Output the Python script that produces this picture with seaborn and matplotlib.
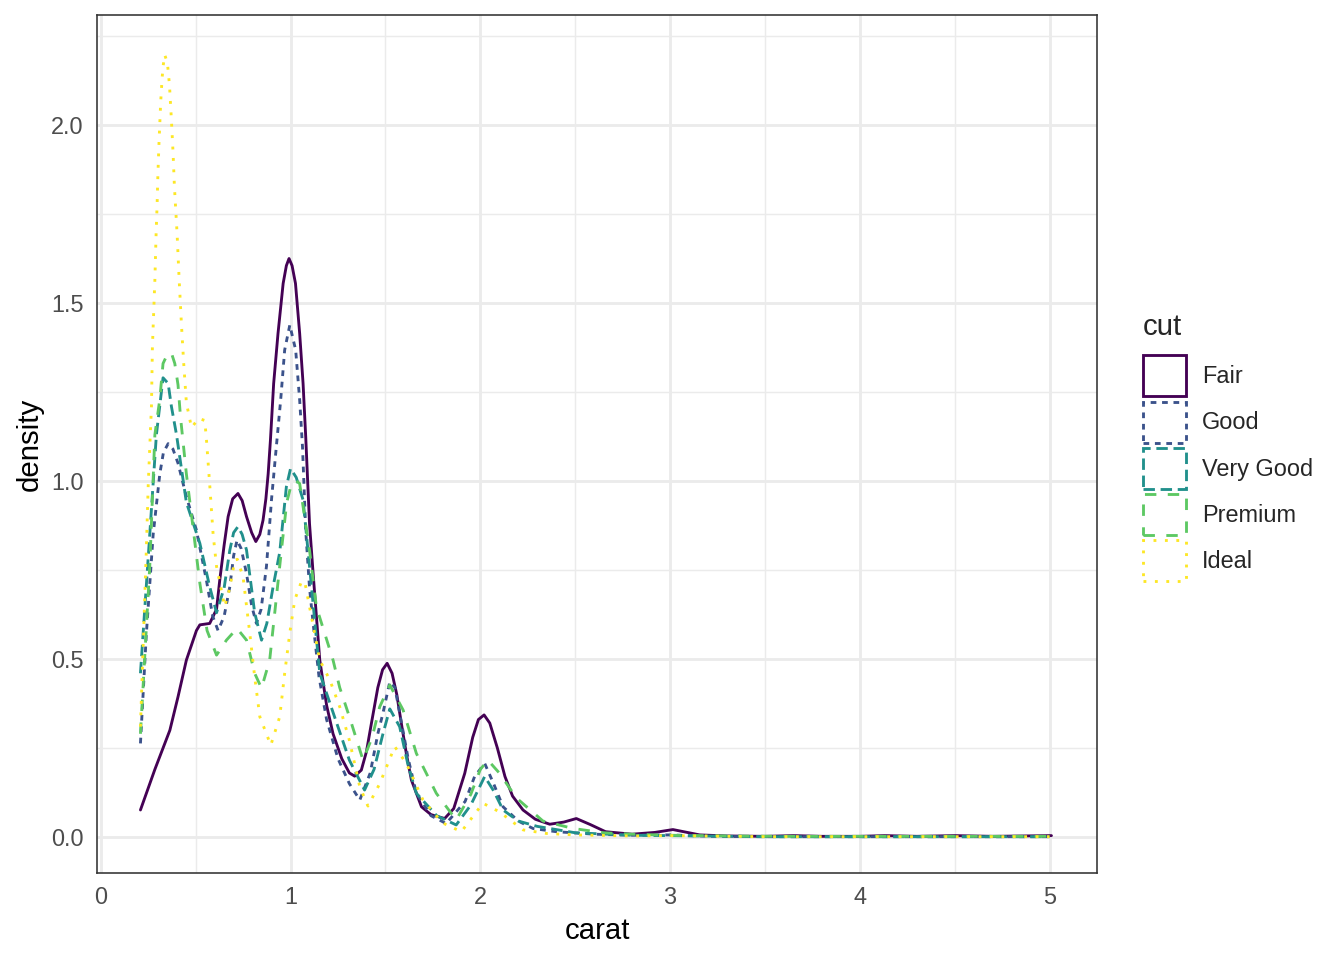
import numpy as np
import pandas as pd
import matplotlib
matplotlib.use("Agg")
import matplotlib.pyplot as plt
from matplotlib.patches import Rectangle
from matplotlib.ticker import MultipleLocator
import seaborn as sns

cuts = ["Fair", "Good", "Very Good", "Premium", "Ideal"]
colors = ["#440154", "#3B528B", "#21908C", "#5DC863", "#FDE725"]

fair_x = [0.209, 0.285, 0.364, 0.407, 0.451, 0.504, 0.522, 0.574, 0.61, 0.627, 0.65, 0.671, 0.695, 0.723,
          0.745, 0.768, 0.795, 0.817, 0.838, 0.855, 0.87, 0.882, 0.894, 0.911, 0.934, 0.961, 0.978, 0.992,
          1.008, 1.026, 1.048, 1.066, 1.080, 1.10, 1.119, 1.154, 1.19, 1.224, 1.27, 1.31, 1.338, 1.373,
          1.40, 1.426, 1.46, 1.485, 1.509, 1.535, 1.56, 1.584, 1.61, 1.637, 1.69, 1.74, 1.812, 1.86,
          1.918, 1.96, 1.99, 2.02, 2.05, 2.09, 2.13, 2.17, 2.225, 2.29, 2.366, 2.44, 2.506, 2.58, 2.66,
          2.80, 2.92, 3.015, 3.10, 3.156, 3.3, 3.5, 3.65, 3.8, 4.0, 4.13, 4.3, 4.5, 4.7, 5.01]
fair_y = [0.076, 0.19, 0.30, 0.394, 0.497, 0.58, 0.596, 0.60, 0.64, 0.722, 0.82, 0.90, 0.95, 0.965,
          0.945, 0.90, 0.855, 0.83, 0.85, 0.89, 0.95, 1.02, 1.115, 1.274, 1.415, 1.555, 1.605, 1.625,
          1.605, 1.555, 1.415, 1.274, 1.124, 0.88, 0.74, 0.497, 0.37, 0.29, 0.22, 0.18, 0.171, 0.188,
          0.24, 0.319, 0.42, 0.47, 0.488, 0.46, 0.40, 0.319, 0.235, 0.16, 0.085, 0.063, 0.052, 0.08,
          0.179, 0.28, 0.33, 0.343, 0.32, 0.25, 0.17, 0.115, 0.076, 0.05, 0.036, 0.042, 0.052, 0.035, 0.015,
          0.008, 0.013, 0.021, 0.012, 0.006, 0.003, 0.002, 0.004, 0.002, 0.002, 0.004, 0.002, 0.004, 0.002, 0.004]

good_x = [0.209, 0.24, 0.276, 0.311, 0.33, 0.355, 0.38, 0.407, 0.451, 0.504, 0.557, 0.59, 0.618, 0.65,
          0.68, 0.70, 0.718, 0.74, 0.768, 0.795, 0.82, 0.845, 0.873, 0.90, 0.925, 0.948, 0.969, 0.996,
          1.027, 1.048, 1.063, 1.08, 1.10, 1.119, 1.15, 1.19, 1.25, 1.31, 1.365, 1.42, 1.46, 1.487,
          1.523, 1.55, 1.575, 1.62, 1.663, 1.74, 1.82, 1.92, 1.97, 2.023, 2.07, 2.12, 2.2, 2.278, 2.4,
          2.6, 2.8, 3.0, 3.2, 3.5, 4.0, 4.5, 5.0]
good_y = [0.263, 0.57, 0.85, 1.02, 1.08, 1.105, 1.09, 1.05, 0.956, 0.862, 0.72, 0.62, 0.58, 0.62,
          0.703, 0.79, 0.834, 0.81, 0.74, 0.65, 0.60, 0.64, 0.76, 0.95, 1.096, 1.228, 1.368, 1.438,
          1.368, 1.228, 1.096, 0.86, 0.70, 0.60, 0.45, 0.33, 0.22, 0.15, 0.104, 0.18, 0.29, 0.348,
          0.436, 0.42, 0.348, 0.22, 0.123, 0.06, 0.038, 0.10, 0.17, 0.207, 0.15, 0.085, 0.045, 0.024, 0.015,
          0.008, 0.005, 0.006, 0.002, 0.001, 0.001, 0.001, 0.001]

vgood_x = [0.209, 0.258, 0.293, 0.328, 0.355, 0.372, 0.399, 0.451, 0.522, 0.574, 0.61, 0.65, 0.68, 0.70,
           0.723, 0.745, 0.768, 0.811, 0.847, 0.875, 0.908, 0.943, 0.978, 1.0, 1.03, 1.066, 1.10, 1.154,
           1.224, 1.31, 1.39, 1.44, 1.487, 1.523, 1.575, 1.62, 1.663, 1.77, 1.873, 1.95, 2.023, 2.07,
           2.12, 2.2, 2.3, 2.5, 2.8, 3.0, 3.5, 4.0, 4.5, 5.0]
vgood_y = [0.46, 0.85, 1.13, 1.29, 1.274, 1.21, 1.13, 0.94, 0.825, 0.703, 0.63, 0.70, 0.806, 0.855,
           0.872, 0.85, 0.806, 0.63, 0.553, 0.60, 0.703, 0.80, 0.984, 1.035, 1.01, 0.947, 0.76, 0.46,
           0.35, 0.216, 0.132, 0.19, 0.29, 0.36, 0.31, 0.20, 0.123, 0.06, 0.034, 0.09, 0.17, 0.13,
           0.076, 0.045, 0.03, 0.012, 0.005, 0.004, 0.001, 0.001, 0.001, 0.001]

prem_x = [0.209, 0.258, 0.285, 0.311, 0.328, 0.35, 0.372, 0.39, 0.407, 0.42, 0.451, 0.486, 0.522, 0.56,
          0.61, 0.662, 0.718, 0.768, 0.811, 0.847, 0.89, 0.952, 0.98, 1.005, 1.03, 1.048, 1.10, 1.136,
          1.224, 1.259, 1.31, 1.382, 1.43, 1.47, 1.523, 1.593, 1.663, 1.768, 1.873, 1.95, 2.0, 2.04,
          2.10, 2.19, 2.33, 2.49, 2.65, 2.8, 3.0, 3.3, 3.6, 4.0, 4.5, 5.0]
prem_y = [0.29, 0.76, 1.13, 1.23, 1.33, 1.355, 1.36, 1.33, 1.27, 1.18, 1.02, 0.87, 0.713, 0.58,
          0.511, 0.553, 0.586, 0.553, 0.46, 0.418, 0.497, 0.806, 0.94, 0.993, 1.0, 0.993, 0.806, 0.647,
          0.497, 0.42, 0.338, 0.216, 0.28, 0.366, 0.427, 0.357, 0.235, 0.123, 0.048, 0.12, 0.19, 0.216,
          0.18, 0.11, 0.045, 0.024, 0.012, 0.008, 0.005, 0.003, 0.002, 0.002, 0.002, 0.002]

ideal_x = [0.209, 0.24, 0.25, 0.267, 0.272, 0.285, 0.291, 0.297, 0.30, 0.306, 0.311, 0.316, 0.323, 0.328,
           0.337, 0.351, 0.362, 0.372, 0.381, 0.388, 0.395, 0.402, 0.413, 0.425, 0.437, 0.451, 0.478,
           0.516, 0.548, 0.557, 0.574, 0.592, 0.61, 0.653, 0.68, 0.706, 0.72, 0.75, 0.785, 0.811, 0.838,
           0.896, 0.943, 0.969, 0.996, 1.022, 1.057, 1.075, 1.11, 1.154, 1.207, 1.259, 1.31, 1.365,
           1.408, 1.47, 1.549, 1.61, 1.698, 1.80, 1.90, 2.014, 2.10, 2.226, 2.35, 2.5, 2.8, 3.0, 3.5,
           4.0, 4.5, 5.0]
ideal_y = [0.31, 0.806, 0.99, 1.21, 1.377, 1.565, 1.686, 1.78, 1.845, 1.94, 2.005, 2.068, 2.13, 2.164,
           2.197, 2.175, 2.112, 2.016, 1.92, 1.827, 1.761, 1.696, 1.565, 1.44, 1.33, 1.22, 1.15,
           1.176, 1.17, 1.115, 0.99, 0.85, 0.76, 0.647, 0.70, 0.778, 0.78, 0.73, 0.573, 0.45, 0.338,
           0.258, 0.338, 0.46, 0.573, 0.666, 0.717, 0.717, 0.619, 0.497, 0.441, 0.366, 0.272, 0.141,
           0.087, 0.15, 0.254, 0.207, 0.104, 0.04, 0.015, 0.095, 0.071, 0.02, 0.01, 0.006, 0.003, 0.004, 0.001,
           0.001, 0.001, 0.001]

series = {"Fair": (fair_x, fair_y), "Good": (good_x, good_y), "Very Good": (vgood_x, vgood_y),
          "Premium": (prem_x, prem_y), "Ideal": (ideal_x, ideal_y)}
frames = [pd.DataFrame({"carat": xs, "density": ys, "cut": c}) for c, (xs, ys) in series.items()]
df = pd.concat(frames, ignore_index=True)
df["cut"] = pd.Categorical(df["cut"], categories=cuts, ordered=True)

dash_map = {"Fair": "", "Good": (2, 2), "Very Good": (4, 2), "Premium": (4, 4), "Ideal": (1, 3)}
palette = dict(zip(cuts, colors))

sns.set_style("white")
plt.rcParams["font.family"] = ["Liberation Sans", "DejaVu Sans"]

fig = plt.figure(figsize=(7, 5), dpi=192)
ax = fig.add_axes([97/1344, 1 - 873/960, (1097 - 97)/1344, (873 - 15)/960])

sns.lineplot(data=df, x="carat", y="density", hue="cut", style="cut", hue_order=cuts, style_order=cuts,
             palette=palette, dashes=dash_map, linewidth=1.07, legend=False, sort=False,
             estimator=None, ax=ax)
for ln in ax.lines:
    ln.set_dash_capstyle("butt")
    ln.set_solid_joinstyle("round")

ax.set_xlim(-0.02, 5.25)
ax.set_ylim(-0.101, 2.309)
ax.xaxis.set_major_locator(MultipleLocator(1))
ax.xaxis.set_minor_locator(MultipleLocator(0.5))
ax.yaxis.set_major_locator(MultipleLocator(0.5))
ax.yaxis.set_minor_locator(MultipleLocator(0.25))
ax.yaxis.set_major_formatter(matplotlib.ticker.FormatStrFormatter("%.1f"))
ax.grid(which="major", color="#EBEBEB", linewidth=1.07)
ax.grid(which="minor", color="#EBEBEB", linewidth=0.53)
ax.set_axisbelow(True)
for s in ax.spines.values():
    s.set_color("#333333")
    s.set_linewidth(0.6)
ax.tick_params(which="major", length=2.75, width=0.6, color="#333333", labelsize=8.8,
               labelcolor="#4D4D4D", pad=2.2)
ax.tick_params(which="minor", length=0)
ax.set_xlabel("carat", fontsize=11, color="black", labelpad=3)
ax.set_ylabel("density", fontsize=11, color="black", labelpad=3)

handles = [Rectangle((0, 0), 1, 1, facecolor="none", edgecolor=c,
                     linestyle=(0, dash_map[n]) if dash_map[n] else "solid", linewidth=1.07)
           for n, c in zip(cuts, colors)]
leg = fig.legend(handles, cuts, title="cut", loc="center left",
                 bbox_to_anchor=(1143/1344, 1 - 447/960), frameon=False, fontsize=8.8,
                 title_fontsize=11, handlelength=1.85, handleheight=2.3, labelspacing=0.23,
                 handletextpad=0.68, borderpad=0, borderaxespad=0)
leg._legend_box.align = "left"
leg._legend_box.sep = 5.5

fig.savefig("out.png", dpi=192)
